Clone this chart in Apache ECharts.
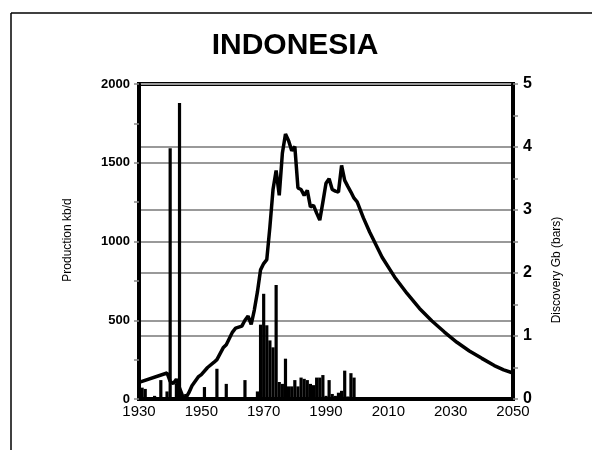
<!DOCTYPE html>
<html>
<head>
<meta charset="utf-8">
<script src="https://cdn.jsdelivr.net/npm/echarts@6/dist/echarts.min.js"></script>
<style>
  html, body { margin: 0; padding: 0; background: #fff; }
  #chart { width: 592px; height: 450px; }
</style>
</head>
<body>
<div id="chart"></div>
<script>
// production kb/d, [year, value]
const production = [
  [1930, 105], [1939, 165], [1940, 112], [1941, 98], [1942, 126], [1943, 70],
  [1944, 18], [1945, 5], [1946, 40], [1947, 84], [1949, 140], [1950, 155],
  [1952, 200], [1954, 232], [1955, 250], [1957, 325], [1958, 345], [1960, 425],
  [1961, 450], [1963, 463], [1964, 500], [1965, 526], [1966, 473], [1967, 565],
  [1968, 680], [1969, 820], [1970, 860], [1971, 885], [1972, 1093], [1973, 1330],
  [1974, 1451], [1975, 1293], [1976, 1560], [1977, 1682], [1978, 1640], [1979, 1577],
  [1980, 1602], [1981, 1340], [1982, 1330], [1983, 1293], [1984, 1325], [1985, 1220],
  [1986, 1230], [1987, 1180], [1988, 1136], [1989, 1250], [1990, 1370], [1991, 1399],
  [1992, 1330], [1993, 1320], [1994, 1314], [1995, 1483], [1996, 1388], [1997, 1350],
  [1998, 1314], [1999, 1275], [2000, 1251], [2002, 1150], [2004, 1060],
  [2008, 900], [2012, 775], [2016, 670], [2020, 575], [2024, 495], [2028, 425],
  [2032, 360], [2036, 305], [2040, 258], [2044, 212], [2047, 185], [2050, 165]
];

// discovery Gb (bars), [year, value]
const discovery = [
  [1931, 0.18], [1932, 0.16], [1935, 0.05], [1937, 0.30], [1939, 0.12],
  [1940, 3.98], [1942, 0.25], [1943, 4.70], [1945, 0.08], [1948, 0.03],
  [1951, 0.19], [1955, 0.48], [1958, 0.24], [1964, 0.30], [1968, 0.12],
  [1969, 1.18], [1970, 1.67], [1971, 1.17], [1972, 0.93], [1973, 0.82],
  [1974, 1.81], [1975, 0.27], [1976, 0.24], [1977, 0.64], [1978, 0.20],
  [1979, 0.20], [1980, 0.30], [1981, 0.20], [1982, 0.34], [1983, 0.32],
  [1984, 0.30], [1985, 0.24], [1986, 0.22], [1987, 0.34], [1988, 0.34],
  [1989, 0.38], [1990, 0.05], [1991, 0.30], [1992, 0.08], [1993, 0.05],
  [1994, 0.10], [1995, 0.13], [1996, 0.45], [1997, 0.04], [1998, 0.41],
  [1999, 0.34]
];

const chart = echarts.init(document.getElementById('chart'));
const font = 'Liberation Sans, Arial, sans-serif';
const plain = v => String(v);

const option = {
  backgroundColor: '#fff',
  animation: false,
  title: {
    text: 'INDONESIA',
    left: 290,
    top: 26,
    textAlign: 'center',
    textStyle: { fontFamily: font, fontSize: 30, fontWeight: 'bold', color: '#000' }
  },
  grid: {
    left: 139, right: 79, top: 84, bottom: 51,
    show: true, borderColor: '#000', borderWidth: 4
  },
  xAxis: {
    type: 'value', min: 1930, max: 2050, interval: 20,
    axisLine: { show: true, lineStyle: { color: '#000', width: 4 } },
    axisTick: { show: false },
    splitLine: { show: false },
    axisLabel: { fontFamily: font, fontSize: 15, color: '#000', margin: 5, formatter: plain }
  },
  yAxis: [
    {
      type: 'value', min: 0, max: 2000, interval: 500,
      axisLine: { show: true, lineStyle: { color: '#000', width: 4 } },
      axisTick: { show: true, length: 5, lineStyle: { color: '#888', width: 1.5 } },
      minorTick: { show: true, splitNumber: 2, length: 5, lineStyle: { color: '#888', width: 1.5 } },
      splitLine: { show: true, lineStyle: { color: '#999', width: 2 } },
      axisLabel: { fontFamily: font, fontSize: 13, fontWeight: 'bold', color: '#000', margin: 9, formatter: plain }
    },
    {
      type: 'value', min: 0, max: 5, interval: 1,
      axisLine: { show: true, lineStyle: { color: '#000', width: 4 } },
      axisTick: { show: true, length: 5, lineStyle: { color: '#888', width: 1.5 } },
      minorTick: { show: true, splitNumber: 2, length: 5, lineStyle: { color: '#888', width: 1.5 } },
      splitLine: { show: true, lineStyle: { color: '#999', width: 2 } },
      axisLabel: { fontFamily: font, fontSize: 16, fontWeight: 'bold', color: '#000', margin: 10, formatter: plain }
    }
  ],
  series: [
    {
      type: 'bar',
      yAxisIndex: 1,
      data: discovery,
      barWidth: 3.2,
      itemStyle: { color: '#000' },
      z: 2
    },
    {
      type: 'line',
      yAxisIndex: 0,
      data: production,
      showSymbol: false,
      lineStyle: { color: '#000', width: 3.5 },
      z: 3
    }
  ],
  graphic: [
    { type: 'line', shape: { x1: 11, y1: 13, x2: 592, y2: 13 }, style: { stroke: '#000', lineWidth: 1.5 } },
    { type: 'line', shape: { x1: 11, y1: 13, x2: 11, y2: 450 }, style: { stroke: '#000', lineWidth: 1.5 } },
    {
      type: 'text', x: 68, y: 240, rotation: Math.PI / 2,
      style: { text: 'Production kb/d', font: '12px ' + font, fill: '#000', textAlign: 'center', textVerticalAlign: 'middle' }
    },
    {
      type: 'text', x: 557, y: 270, rotation: Math.PI / 2,
      style: { text: 'Discovery Gb (bars)', font: '12px ' + font, fill: '#000', textAlign: 'center', textVerticalAlign: 'middle' }
    }
  ]
};

chart.setOption(option);
</script>
</body>
</html>
